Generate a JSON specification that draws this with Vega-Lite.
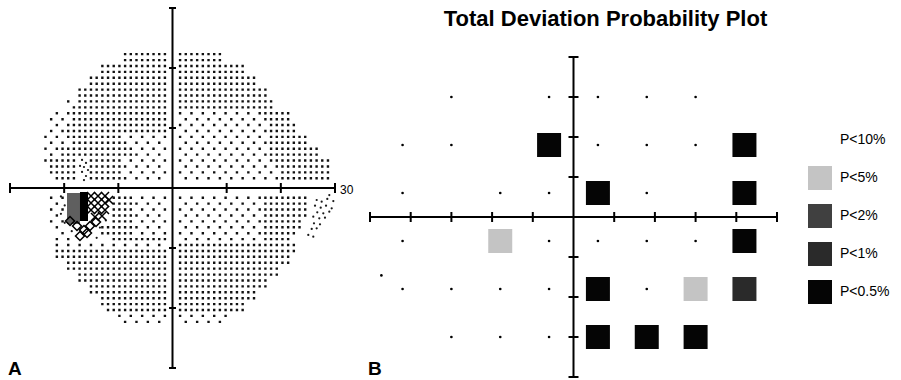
{
  "$schema": "https://vega.github.io/schema/vega-lite/v6.json",
  "width": 901,
  "height": 380,
  "autosize": "none",
  "padding": 0,
  "background": "white",
  "config": {"view": {"stroke": null}, "axis": {"disable": true}, "font": "Liberation Sans"},
  "datasets": {
    "one": [{}],
    "fieldRows": [
      {"y":22.31,"x1":-8.75,"x2":-1.4,"d":"dense"},
      {"y":21.32,"x1":-8.75,"x2":-1.4,"d":"dense"},
      {"y":20.34,"x1":-12.95,"x2":-1.4,"d":"dense"},
      {"y":19.35,"x1":-12.95,"x2":-1.4,"d":"dense"},
      {"y":18.37,"x1":-15.05,"x2":-1.4,"d":"dense"},
      {"y":17.38,"x1":-15.05,"x2":-1.4,"d":"dense"},
      {"y":16.4,"x1":-17.15,"x2":-1.4,"d":"dense"},
      {"y":15.41,"x1":-17.15,"x2":-1.4,"d":"dense"},
      {"y":14.43,"x1":-19.25,"x2":-19.25,"d":"sparse"},
      {"y":14.43,"x1":-17.15,"x2":-1.4,"d":"dense"},
      {"y":13.44,"x1":-18.2,"x2":-1.4,"d":"dense"},
      {"y":12.46,"x1":-21.35,"x2":-21.35,"d":"sparse"},
      {"y":12.46,"x1":-19.25,"x2":-1.4,"d":"dense"},
      {"y":11.47,"x1":-22.4,"x2":-20.3,"d":"sparse"},
      {"y":11.47,"x1":-18.2,"x2":-1.4,"d":"dense"},
      {"y":10.49,"x1":-21.35,"x2":-21.35,"d":"sparse"},
      {"y":10.49,"x1":-19.25,"x2":-1.4,"d":"dense"},
      {"y":9.5,"x1":-22.4,"x2":-22.4,"d":"sparse"},
      {"y":9.5,"x1":-20.3,"x2":-1.4,"d":"dense"},
      {"y":8.52,"x1":-23.45,"x2":-21.35,"d":"sparse"},
      {"y":8.52,"x1":-19.25,"x2":-9.8,"d":"dense"},
      {"y":8.52,"x1":-7.7,"x2":-1.4,"d":"sparse"},
      {"y":7.53,"x1":-22.4,"x2":-20.3,"d":"sparse"},
      {"y":7.53,"x1":-18.2,"x2":-9.8,"d":"dense"},
      {"y":7.53,"x1":-8.75,"x2":-2.45,"d":"sparse"},
      {"y":6.55,"x1":-23.45,"x2":-23.45,"d":"sparse"},
      {"y":6.55,"x1":-21.35,"x2":-7.7,"d":"dense"},
      {"y":6.55,"x1":-5.6,"x2":-1.4,"d":"sparse"},
      {"y":5.56,"x1":-22.4,"x2":-22.4,"d":"sparse"},
      {"y":5.56,"x1":-20.3,"x2":-7.7,"d":"dense"},
      {"y":5.56,"x1":-6.65,"x2":-2.45,"d":"sparse"},
      {"y":4.58,"x1":-23.45,"x2":-18.2,"d":"dense"},
      {"y":4.58,"x1":-15.05,"x2":-9.8,"d":"dense"},
      {"y":4.58,"x1":-7.7,"x2":-1.4,"d":"sparse"},
      {"y":3.59,"x1":-22.4,"x2":-18.2,"d":"dense"},
      {"y":3.59,"x1":-15.05,"x2":-9.8,"d":"dense"},
      {"y":3.59,"x1":-8.75,"x2":-2.45,"d":"sparse"},
      {"y":2.61,"x1":-22.4,"x2":-18.2,"d":"dense"},
      {"y":2.61,"x1":-15.05,"x2":-9.8,"d":"dense"},
      {"y":2.61,"x1":-7.7,"x2":-1.4,"d":"sparse"},
      {"y":1.62,"x1":-21.35,"x2":-18.2,"d":"dense"},
      {"y":1.62,"x1":-15.05,"x2":-9.8,"d":"dense"},
      {"y":1.62,"x1":-8.75,"x2":-2.45,"d":"sparse"},

      {"y":22.31,"x1":1.4,"x2":8.75,"d":"dense"},
      {"y":21.32,"x1":1.4,"x2":8.75,"d":"dense"},
      {"y":20.34,"x1":1.4,"x2":12.95,"d":"dense"},
      {"y":19.35,"x1":1.4,"x2":12.95,"d":"dense"},
      {"y":18.37,"x1":1.4,"x2":15.05,"d":"dense"},
      {"y":17.38,"x1":1.4,"x2":15.05,"d":"dense"},
      {"y":16.4,"x1":1.4,"x2":17.15,"d":"dense"},
      {"y":15.41,"x1":1.4,"x2":17.15,"d":"dense"},
      {"y":14.43,"x1":1.4,"x2":18.2,"d":"dense"},
      {"y":13.44,"x1":1.4,"x2":18.2,"d":"dense"},
      {"y":12.46,"x1":1.4,"x2":14.0,"d":"sparse"},
      {"y":12.46,"x1":16.1,"x2":21.35,"d":"dense"},
      {"y":11.47,"x1":2.45,"x2":15.05,"d":"sparse"},
      {"y":11.47,"x1":17.15,"x2":21.35,"d":"dense"},
      {"y":10.49,"x1":1.4,"x2":16.1,"d":"sparse"},
      {"y":10.49,"x1":18.2,"x2":22.4,"d":"dense"},
      {"y":9.5,"x1":2.45,"x2":15.05,"d":"sparse"},
      {"y":9.5,"x1":17.15,"x2":22.4,"d":"dense"},
      {"y":8.52,"x1":1.4,"x2":16.1,"d":"sparse"},
      {"y":8.52,"x1":18.2,"x2":24.5,"d":"dense"},
      {"y":7.53,"x1":2.45,"x2":15.05,"d":"sparse"},
      {"y":7.53,"x1":17.15,"x2":24.5,"d":"dense"},
      {"y":6.55,"x1":1.4,"x2":16.1,"d":"sparse"},
      {"y":6.55,"x1":18.2,"x2":26.6,"d":"dense"},
      {"y":5.56,"x1":2.45,"x2":15.05,"d":"sparse"},
      {"y":5.56,"x1":17.15,"x2":26.6,"d":"dense"},
      {"y":4.58,"x1":1.4,"x2":16.1,"d":"sparse"},
      {"y":4.58,"x1":18.2,"x2":28.7,"d":"dense"},
      {"y":3.59,"x1":2.45,"x2":17.15,"d":"sparse"},
      {"y":3.59,"x1":19.25,"x2":28.7,"d":"dense"},
      {"y":2.61,"x1":1.4,"x2":18.2,"d":"sparse"},
      {"y":2.61,"x1":20.3,"x2":28.7,"d":"dense"},
      {"y":1.62,"x1":2.45,"x2":17.15,"d":"sparse"},
      {"y":1.62,"x1":19.25,"x2":28.7,"d":"dense"},

      {"y":-1.62,"x1":1.4,"x2":14.0,"d":"sparse"},
      {"y":-1.62,"x1":16.1,"x2":24.5,"d":"dense"},
      {"y":-2.61,"x1":2.45,"x2":15.05,"d":"sparse"},
      {"y":-2.61,"x1":17.15,"x2":24.5,"d":"dense"},
      {"y":-3.59,"x1":1.4,"x2":14.0,"d":"sparse"},
      {"y":-3.59,"x1":16.1,"x2":24.5,"d":"dense"},
      {"y":-4.58,"x1":2.45,"x2":15.05,"d":"sparse"},
      {"y":-4.58,"x1":17.15,"x2":24.5,"d":"dense"},
      {"y":-5.56,"x1":1.4,"x2":14.0,"d":"sparse"},
      {"y":-5.56,"x1":16.1,"x2":23.45,"d":"dense"},
      {"y":-6.55,"x1":2.45,"x2":15.05,"d":"sparse"},
      {"y":-6.55,"x1":17.15,"x2":23.45,"d":"dense"},
      {"y":-7.53,"x1":1.4,"x2":14.0,"d":"sparse"},
      {"y":-7.53,"x1":16.1,"x2":22.4,"d":"dense"},
      {"y":-8.52,"x1":2.45,"x2":15.05,"d":"sparse"},
      {"y":-8.52,"x1":17.15,"x2":21.35,"d":"dense"},
      {"y":-9.5,"x1":1.4,"x2":22.4,"d":"dense"},
      {"y":-10.49,"x1":1.4,"x2":22.4,"d":"dense"},
      {"y":-11.47,"x1":1.4,"x2":21.35,"d":"dense"},
      {"y":-12.46,"x1":1.4,"x2":21.35,"d":"dense"},
      {"y":-13.44,"x1":1.4,"x2":19.25,"d":"dense"},
      {"y":-14.43,"x1":1.4,"x2":19.25,"d":"dense"},
      {"y":-15.41,"x1":1.4,"x2":17.15,"d":"dense"},
      {"y":-16.4,"x1":1.4,"x2":17.15,"d":"dense"},
      {"y":-17.38,"x1":1.4,"x2":15.05,"d":"dense"},
      {"y":-18.37,"x1":1.4,"x2":15.05,"d":"dense"},
      {"y":-19.35,"x1":1.4,"x2":12.95,"d":"dense"},
      {"y":-20.34,"x1":1.4,"x2":12.95,"d":"dense"},
      {"y":-21.32,"x1":1.4,"x2":9.8,"d":"sparse"},
      {"y":-22.31,"x1":2.45,"x2":8.75,"d":"sparse"},

      {"y":-1.62,"x1":-22.4,"x2":-20.3,"d":"sparse"},
      {"y":-1.62,"x1":-10.85,"x2":-7.7,"d":"dense"},
      {"y":-1.62,"x1":-5.6,"x2":-1.4,"d":"sparse"},
      {"y":-2.61,"x1":-21.35,"x2":-21.35,"d":"sparse"},
      {"y":-2.61,"x1":-10.85,"x2":-6.65,"d":"dense"},
      {"y":-2.61,"x1":-4.55,"x2":-2.45,"d":"sparse"},
      {"y":-3.59,"x1":-22.4,"x2":-20.3,"d":"sparse"},
      {"y":-3.59,"x1":-10.85,"x2":-7.7,"d":"dense"},
      {"y":-3.59,"x1":-5.6,"x2":-1.4,"d":"sparse"},
      {"y":-4.58,"x1":-21.35,"x2":-21.35,"d":"sparse"},
      {"y":-4.58,"x1":-10.85,"x2":-6.65,"d":"dense"},
      {"y":-4.58,"x1":-4.55,"x2":-2.45,"d":"sparse"},
      {"y":-5.56,"x1":-22.4,"x2":-20.3,"d":"sparse"},
      {"y":-5.56,"x1":-10.85,"x2":-7.7,"d":"dense"},
      {"y":-5.56,"x1":-5.6,"x2":-1.4,"d":"sparse"},
      {"y":-6.55,"x1":-21.35,"x2":-21.35,"d":"sparse"},
      {"y":-6.55,"x1":-12.95,"x2":-6.65,"d":"dense"},
      {"y":-6.55,"x1":-4.55,"x2":-2.45,"d":"sparse"},
      {"y":-7.53,"x1":-20.3,"x2":-20.3,"d":"sparse"},
      {"y":-7.53,"x1":-12.95,"x2":-7.7,"d":"dense"},
      {"y":-7.53,"x1":-5.6,"x2":-1.4,"d":"sparse"},
      {"y":-8.52,"x1":-21.35,"x2":-19.25,"d":"sparse"},
      {"y":-8.52,"x1":-10.85,"x2":-1.4,"d":"dense"},
      {"y":-9.5,"x1":-21.35,"x2":-2.45,"d":"sparse"},
      {"y":-10.49,"x1":-21.35,"x2":-1.4,"d":"dense"},
      {"y":-11.47,"x1":-21.35,"x2":-1.4,"d":"dense"},
      {"y":-12.46,"x1":-19.25,"x2":-1.4,"d":"dense"},
      {"y":-13.44,"x1":-19.25,"x2":-1.4,"d":"dense"},
      {"y":-14.43,"x1":-17.15,"x2":-1.4,"d":"dense"},
      {"y":-15.41,"x1":-17.15,"x2":-1.4,"d":"dense"},
      {"y":-16.4,"x1":-15.05,"x2":-1.4,"d":"dense"},
      {"y":-17.38,"x1":-15.05,"x2":-1.4,"d":"dense"},
      {"y":-18.37,"x1":-12.95,"x2":-1.4,"d":"dense"},
      {"y":-19.35,"x1":-12.95,"x2":-1.4,"d":"dense"},
      {"y":-20.34,"x1":-11.9,"x2":-1.4,"d":"dense"},
      {"y":-21.32,"x1":-9.8,"x2":-1.4,"d":"sparse"},
      {"y":-22.31,"x1":-8.75,"x2":-2.45,"d":"sparse"}
    ],
    "specks": [
      {"x":-16.7,"y":4.67},{"x":-15.97,"y":4.17},{"x":-16.34,"y":3.5},{"x":-15.6,"y":3.0},
      {"x":-16.7,"y":2.67},{"x":-15.97,"y":2.0},{"x":-16.34,"y":1.33},{"x":-17.07,"y":3.67},
      {"x":28.95,"y":-1.17},{"x":26.62,"y":-2.0},{"x":27.54,"y":-2.28},{"x":28.58,"y":-1.83},
      {"x":29.69,"y":-2.17},{"x":26.31,"y":-2.95},{"x":27.36,"y":-3.28},{"x":28.34,"y":-2.95},
      {"x":29.39,"y":-3.38},{"x":26.73,"y":-4.05},{"x":27.84,"y":-4.22},{"x":28.95,"y":-3.95},
      {"x":25.99,"y":-4.78},{"x":27.1,"y":-5.05},{"x":28.15,"y":-4.95},{"x":26.12,"y":-5.88},
      {"x":27.23,"y":-6.05},{"x":25.7,"y":-6.83},{"x":26.62,"y":-6.72},{"x":25.07,"y":-7.83},
      {"x":25.99,"y":-8.12},
      {"x":-20.6,"y":-1.4},{"x":-19.9,"y":-2.9},{"x":-20.6,"y":-4.3},{"x":-19.9,"y":-5.8},
      {"x":-18.6,"y":-7.2},{"x":-13.4,"y":-6.6},{"x":-12.3,"y":-5.4},{"x":-14.0,"y":-8.3}
    ],
    "scot": [
      {"kind":"checker","x1":-19.48,"x2":-17.08,"y1":-0.83,"y2":-6.0},
      {"kind":"solid","x1":-17.08,"x2":-15.6,"y1":-0.67,"y2":-5.5}
    ],
    "scotX": [
      {"x":-15.05,"y":-1.33},{"x":-13.75,"y":-1.33},{"x":-12.46,"y":-1.33},{"x":-11.72,"y":-2.0},
      {"x":-15.05,"y":-2.5},{"x":-13.75,"y":-2.5},{"x":-12.46,"y":-2.5},
      {"x":-15.05,"y":-3.67},{"x":-13.75,"y":-3.67},{"x":-12.46,"y":-3.67},
      {"x":-14.31,"y":-4.83},{"x":-13.02,"y":-4.67}
    ],
    "scotD": [
      {"x":-18.92,"y":-5.5},{"x":-17.63,"y":-6.33},{"x":-16.34,"y":-7.0},{"x":-15.23,"y":-6.33},
      {"x":-14.12,"y":-5.67},{"x":-17.08,"y":-8.0},{"x":-15.78,"y":-7.5}
    ],
    "ticksA": [{"v":-30},{"v":-20},{"v":-10},{"v":10},{"v":20},{"v":30}],
    "ticksBx": [{"v":-25},{"v":-20},{"v":-15},{"v":-10},{"v":-5},{"v":5},{"v":10},{"v":15},{"v":20},{"v":25}],
    "ticksBy": [{"v":-20},{"v":-15},{"v":-10},{"v":-5},{"v":5},{"v":10},{"v":15},{"v":20}],
    "pts": [
      {"x":-15,"y":15,"p":"normal"},{"x":-3,"y":15,"p":"normal"},{"x":3,"y":15,"p":"normal"},{"x":9,"y":15,"p":"normal"},{"x":15,"y":15,"p":"normal"},
      {"x":-21,"y":9,"p":"normal"},{"x":-15,"y":9,"p":"normal"},{"x":-3,"y":9,"p":"P<0.5%"},{"x":3,"y":9,"p":"normal"},{"x":9,"y":9,"p":"normal"},{"x":15,"y":9,"p":"normal"},{"x":21,"y":9,"p":"P<0.5%"},
      {"x":-21,"y":3,"p":"normal"},{"x":-9,"y":3,"p":"normal"},{"x":-3,"y":3,"p":"normal"},{"x":3,"y":3,"p":"P<0.5%"},{"x":9,"y":3,"p":"normal"},{"x":21,"y":3,"p":"P<0.5%"},
      {"x":-21,"y":-3,"p":"normal"},{"x":-9,"y":-3,"p":"P<5%"},{"x":-3,"y":-3,"p":"normal"},{"x":3,"y":-3,"p":"normal"},{"x":9,"y":-3,"p":"normal"},{"x":15,"y":-3,"p":"normal"},{"x":21,"y":-3,"p":"P<0.5%"},
      {"x":-23.6,"y":-7.3,"p":"normal"},
      {"x":-21,"y":-9,"p":"normal"},{"x":-15,"y":-9,"p":"normal"},{"x":-9,"y":-9,"p":"normal"},{"x":-3,"y":-9,"p":"normal"},{"x":3,"y":-9,"p":"P<0.5%"},{"x":9,"y":-9,"p":"normal"},{"x":15,"y":-9,"p":"P<5%"},{"x":21,"y":-9,"p":"P<1%"},
      {"x":-15,"y":-15,"p":"normal"},{"x":-9,"y":-15,"p":"normal"},{"x":-3,"y":-15,"p":"normal"},{"x":3,"y":-15,"p":"P<0.5%"},{"x":9,"y":-15,"p":"P<0.5%"},{"x":15,"y":-15,"p":"P<0.5%"}
    ]
  },
  "layer": [
    {
      "layer": [
        {
          "data": {"name": "fieldRows"},
          "mark": {"type": "rule", "strokeWidth": 2.4, "color": "#111111", "xOffset": -1.2, "x2Offset": 1.5, "strokeCap": "butt"},
          "encoding": {
            "x": {"field": "x1", "type": "quantitative", "scale": {"domain": [-30, 30], "range": [10, 335], "nice": false, "zero": false}},
            "x2": {"field": "x2"},
            "y": {"field": "y", "type": "quantitative", "scale": {"domain": [-30, 30], "range": [368, 8], "nice": false, "zero": false}},
            "strokeDash": {"field": "d", "type": "nominal", "scale": {"domain": ["dense", "sparse"], "range": [[2.4, 3.2875], [2.4, 8.975]]}, "legend": null}
          }
        },
        {
          "data": {"name": "specks"},
          "mark": {"type": "point", "filled": true, "size": 5, "color": "#1a1a1a", "opacity": 1},
          "encoding": {
            "x": {"field": "x", "type": "quantitative"},
            "y": {"field": "y", "type": "quantitative"}
          }
        },
        {
          "data": {"name": "scot"},
          "transform": [{"filter": "datum.kind == 'checker'"}],
          "mark": {"type": "rect", "color": "#5f5f5f"},
          "encoding": {
            "x": {"field": "x1", "type": "quantitative"}, "x2": {"field": "x2"},
            "y": {"field": "y1", "type": "quantitative"}, "y2": {"field": "y2"}
          }
        },
        {
          "data": {"name": "scot"},
          "transform": [{"filter": "datum.kind == 'solid'"}],
          "mark": {"type": "rect", "color": "#000000"},
          "encoding": {
            "x": {"field": "x1", "type": "quantitative"}, "x2": {"field": "x2"},
            "y": {"field": "y1", "type": "quantitative"}, "y2": {"field": "y2"}
          }
        },
        {
          "data": {"name": "scotX"},
          "mark": {"type": "point", "shape": "M-1,-1L1,1M-1,1L1,-1", "filled": false, "size": 64, "strokeWidth": 1.5, "color": "#000", "opacity": 1},
          "encoding": {
            "x": {"field": "x", "type": "quantitative"},
            "y": {"field": "y", "type": "quantitative"}
          }
        },
        {
          "data": {"name": "scotD"},
          "mark": {"type": "point", "shape": "diamond", "filled": false, "size": 80, "strokeWidth": 1.5, "color": "#000", "opacity": 1},
          "encoding": {
            "x": {"field": "x", "type": "quantitative"},
            "y": {"field": "y", "type": "quantitative"}
          }
        },
        {
          "data": {"name": "one"},
          "mark": {"type": "rule", "strokeWidth": 2, "color": "#000"},
          "encoding": {
            "x": {"datum": -30, "type": "quantitative"}, "x2": {"datum": 30},
            "y": {"datum": 0, "type": "quantitative"}
          }
        },
        {
          "data": {"name": "one"},
          "mark": {"type": "rule", "strokeWidth": 2, "color": "#000"},
          "encoding": {
            "x": {"datum": 0, "type": "quantitative"},
            "y": {"datum": -30, "type": "quantitative"}, "y2": {"datum": 30}
          }
        },
        {
          "data": {"name": "ticksA"},
          "mark": {"type": "point", "shape": "M0,-1L0,1", "filled": false, "size": 100, "strokeWidth": 2, "color": "#000", "opacity": 1},
          "encoding": {
            "x": {"field": "v", "type": "quantitative"},
            "y": {"datum": 0, "type": "quantitative"}
          }
        },
        {
          "data": {"name": "ticksA"},
          "mark": {"type": "point", "shape": "M-1,0L1,0", "filled": false, "size": 49, "strokeWidth": 2, "color": "#000", "opacity": 1},
          "encoding": {
            "x": {"datum": 0, "type": "quantitative"},
            "y": {"field": "v", "type": "quantitative"}
          }
        },
        {
          "data": {"name": "one"},
          "mark": {"type": "text", "text": "30", "fontSize": 12, "align": "left", "baseline": "middle", "dx": 5, "dy": 2, "color": "#000"},
          "encoding": {
            "x": {"datum": 30, "type": "quantitative"},
            "y": {"datum": 0, "type": "quantitative"}
          }
        },
        {
          "data": {"name": "one"},
          "mark": {"type": "text", "text": "A", "fontSize": 19, "fontWeight": "bold", "align": "left", "baseline": "alphabetic", "dx": -2, "dy": 7, "color": "#000"},
          "encoding": {
            "x": {"datum": -30, "type": "quantitative"},
            "y": {"datum": -30, "type": "quantitative"}
          }
        }
      ]
    },
    {
      "layer": [
        {
          "data": {"name": "one"},
          "mark": {"type": "rule", "strokeWidth": 2, "color": "#000"},
          "encoding": {
            "x": {"datum": -25, "type": "quantitative", "scale": {"domain": [-25, 25], "range": [370, 777], "nice": false, "zero": false}},
            "x2": {"datum": 25},
            "y": {"datum": 0, "type": "quantitative", "scale": {"domain": [-20, 20], "range": [377, 57], "nice": false, "zero": false}}
          }
        },
        {
          "data": {"name": "one"},
          "mark": {"type": "rule", "strokeWidth": 2, "color": "#000"},
          "encoding": {
            "x": {"datum": 0, "type": "quantitative"},
            "y": {"datum": -20, "type": "quantitative"}, "y2": {"datum": 20}
          }
        },
        {
          "data": {"name": "ticksBx"},
          "mark": {"type": "point", "shape": "M0,-1L0,1", "filled": false, "size": 100, "strokeWidth": 2, "color": "#000", "opacity": 1},
          "encoding": {
            "x": {"field": "v", "type": "quantitative"},
            "y": {"datum": 0, "type": "quantitative"}
          }
        },
        {
          "data": {"name": "ticksBy"},
          "mark": {"type": "point", "shape": "M-1,0L1,0", "filled": false, "size": 100, "strokeWidth": 2, "color": "#000", "opacity": 1},
          "encoding": {
            "x": {"datum": 0, "type": "quantitative"},
            "y": {"field": "v", "type": "quantitative"}
          }
        },
        {
          "data": {"name": "pts"},
          "transform": [{"filter": "datum.p == 'normal'"}],
          "mark": {"type": "point", "filled": true, "size": 7, "color": "#000", "opacity": 1},
          "encoding": {
            "x": {"field": "x", "type": "quantitative"},
            "y": {"field": "y", "type": "quantitative"}
          }
        },
        {
          "data": {"name": "pts"},
          "transform": [{"filter": "datum.p != 'normal'"}],
          "mark": {"type": "point", "shape": "square", "filled": true, "size": 576, "opacity": 1, "strokeWidth": 0},
          "encoding": {
            "x": {"field": "x", "type": "quantitative"},
            "y": {"field": "y", "type": "quantitative"},
            "color": {
              "field": "p", "type": "nominal",
              "scale": {"domain": ["P<10%", "P<5%", "P<2%", "P<1%", "P<0.5%"], "range": ["#ffffff", "#c4c4c4", "#404040", "#2a2a2a", "#050505"]},
              "legend": {
                "orient": "none", "legendX": 808, "legendY": 128, "title": null,
                "symbolType": "square", "symbolSize": 576, "symbolStrokeWidth": 0, "symbolOpacity": 1,
                "labelFontSize": 14, "labelFont": "Liberation Sans", "labelColor": "#000",
                "labelOffset": 8, "rowPadding": 14, "padding": 0
              }
            }
          }
        },
        {
          "data": {"name": "one"},
          "mark": {"type": "text", "text": "Total Deviation Probability Plot", "font": "Liberation Sans", "fontSize": 22, "fontWeight": "bold", "align": "center", "baseline": "alphabetic", "color": "#000"},
          "encoding": {
            "x": {"datum": 3.93, "type": "quantitative"},
            "y": {"datum": 23.875, "type": "quantitative"}
          }
        },
        {
          "data": {"name": "one"},
          "mark": {"type": "text", "text": "B", "fontSize": 19, "fontWeight": "bold", "align": "left", "baseline": "alphabetic", "dx": -2, "dy": -2, "color": "#000"},
          "encoding": {
            "x": {"datum": -25, "type": "quantitative"},
            "y": {"datum": -20, "type": "quantitative"}
          }
        }
      ]
    }
  ],
  "resolve": {"scale": {"x": "independent", "y": "independent", "color": "independent", "strokeDash": "independent"}}
}
